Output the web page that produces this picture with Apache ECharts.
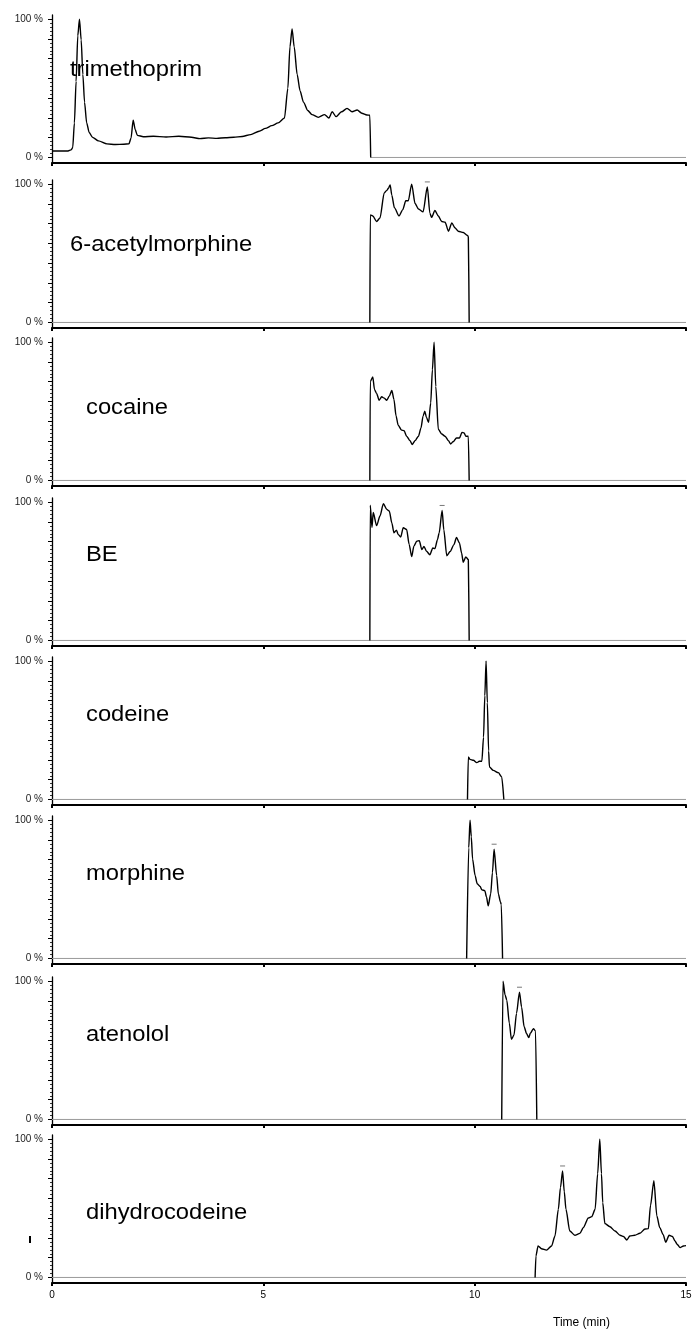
<!DOCTYPE html>
<html>
<head>
<meta charset="utf-8">
<script src="https://cdn.jsdelivr.net/npm/echarts@6/dist/echarts.min.js"></script>
<style>
html,body{margin:0;padding:0;background:#fff;}
#c{width:697px;height:1336px;}
</style>
</head>
<body>
<div id="c"></div>
<script>
// ---- data ----
const compounds = ['trimethoprim','6-acetylmorphine','cocaine','BE','codeine','morphine','atenolol','dihydrocodeine'];
const xTicks = [0, 5, 10, 15];
const yLabels = ['0 %', '100 %'];
const xTitle = 'Time (min)';

const trimethoprim = [[0,4.7],[0.38,4.7],[0.45,5.5],[0.49,7],[0.53,25],[0.57,55],[0.61,88],[0.65,100],[0.69,85],[0.73,60],[0.77,40],[0.82,25],[0.88,18],[0.96,14.5],[1.1,12],[1.3,9.8],[1.5,9.4],[1.7,9.6],[1.82,9.8],[1.87,14],[1.92,27],[1.97,20],[2.02,16],[2.16,15],[2.4,15.3],[2.7,14.8],[3.0,15.3],[3.3,14.6],[3.5,13.6],[3.7,14.2],[3.9,13.8],[4.1,14.3],[4.3,14.6],[4.5,15.2],[4.7,16.5],[4.9,19],[5.05,21],[5.2,23],[5.35,25],[5.5,28.5],[5.58,50],[5.63,80],[5.68,93],[5.73,80],[5.8,60],[5.87,48],[5.95,40],[6.05,34],[6.15,31],[6.3,29],[6.45,31],[6.55,28.5],[6.63,33],[6.72,29.5],[6.85,33],[6.98,35.5],[7.1,33],[7.22,34.3],[7.33,32],[7.45,30.7],[7.52,30.5],[7.54,0]];
const acetylmorphine = [[7.52,0],[7.53,77.7],[7.59,77],[7.68,73],[7.76,75.5],[7.86,93.7],[7.92,95.5],[7.96,97],[8.0,99.5],[8.04,92],[8.10,83],[8.21,77],[8.30,81.6],[8.37,88],[8.43,88],[8.51,100],[8.59,86],[8.67,82],[8.78,80],[8.88,98],[8.94,79],[8.98,76],[9.06,81],[9.14,77],[9.22,73],[9.30,72.5],[9.38,66],[9.46,72],[9.53,68.5],[9.61,66],[9.73,65],[9.83,63],[9.85,62],[9.87,0]];
const cocaine = [[7.52,0],[7.53,71.6],[7.59,74.8],[7.63,65.7],[7.68,63],[7.74,58],[7.80,60.5],[7.86,59.5],[7.92,58],[7.98,61],[8.04,65],[8.09,58.6],[8.14,46.7],[8.19,40],[8.27,36.4],[8.33,36],[8.39,32],[8.47,28.8],[8.52,26],[8.59,28.8],[8.67,32],[8.73,38],[8.78,46.7],[8.82,50],[8.86,45.5],[8.91,42],[8.96,56],[9.0,80],[9.04,100],[9.08,68],[9.14,37],[9.22,33.6],[9.30,32],[9.38,28.8],[9.43,26.4],[9.49,28],[9.57,30.7],[9.64,30.7],[9.70,34.8],[9.75,34.3],[9.79,32],[9.85,32],[9.87,0]];
const BE = [[7.52,0],[7.53,97.8],[7.57,81.7],[7.60,92.5],[7.68,83],[7.76,90],[7.84,98.9],[7.92,94.8],[7.98,93.6],[8.04,85],[8.09,77.9],[8.15,79.8],[8.19,76.7],[8.25,74.8],[8.31,81.5],[8.39,80.3],[8.45,69.5],[8.51,60.6],[8.56,68],[8.63,71.8],[8.69,72.2],[8.75,65.7],[8.80,68],[8.86,64.5],[8.94,62],[9.01,66.9],[9.06,66.4],[9.12,72.9],[9.16,77.8],[9.23,94],[9.27,80],[9.34,61.2],[9.42,64.3],[9.51,69.3],[9.57,74.5],[9.64,70.5],[9.69,63.3],[9.73,56.6],[9.79,60.4],[9.85,58.5],[9.87,0]];
const codeine = [[9.83,0],[9.85,30.7],[9.89,29],[9.97,28.3],[10.05,26.6],[10.11,27.6],[10.17,27.6],[10.21,45],[10.24,75],[10.27,100],[10.30,70],[10.33,35],[10.35,23.5],[10.44,21],[10.56,19.4],[10.64,16.3],[10.69,0]];
const morphine = [[9.81,0],[9.86,80],[9.89,100],[9.92,88],[9.95,72],[10.01,60],[10.06,54],[10.13,52],[10.17,49.6],[10.24,49],[10.28,44.4],[10.32,38],[10.38,46.8],[10.42,62],[10.46,79],[10.52,60],[10.56,46.8],[10.61,40.8],[10.63,39],[10.66,0]];
const atenolol = [[10.64,0],[10.67,100],[10.72,90],[10.76,86.3],[10.82,69.6],[10.87,58],[10.93,61],[10.99,76.7],[11.06,92],[11.11,81.3],[11.17,67],[11.23,62],[11.28,59.2],[11.32,62.5],[11.39,65.6],[11.44,64],[11.47,0]];
const dihydrocodeine = [[11.43,0],[11.45,15.6],[11.50,22.8],[11.58,20.8],[11.70,19.8],[11.82,22.8],[11.90,30],[11.98,49.3],[12.03,65],[12.08,77],[12.12,62],[12.16,49.3],[12.25,33.6],[12.37,30.5],[12.49,31.9],[12.57,36],[12.69,43],[12.77,44],[12.85,49.3],[12.91,75],[12.96,100],[13.0,75],[13.03,54],[13.08,39],[13.20,36.7],[13.32,33.6],[13.44,30.5],[13.52,29.6],[13.60,27.1],[13.67,30],[13.79,30.5],[13.91,32],[14.03,35],[14.11,35.3],[14.16,52],[14.24,70],[14.31,44.5],[14.38,36],[14.46,31],[14.52,25.5],[14.60,30.5],[14.68,29.6],[14.74,26.4],[14.79,24],[14.86,21.6],[14.94,22.8],[15.0,23]];
const apexTimes = [null, 8.88, null, 9.23, null, 10.46, 11.06, 12.08];

const traces = [trimethoprim, acetylmorphine, cocaine, BE, codeine, morphine, atenolol, dihydrocodeine];

// ---- layout ----
const bottoms = [163, 328, 486, 646, 805, 964, 1125, 1283];
const gridH = 148;
const yMin = -4, yMax = 103;
const labelPos = [[70,68],[70,243],[86,406],[86,553],[86,713],[86,872],[86,1033],[86,1211]];
const FONT = '"Liberation Sans", Arial, Helvetica, sans-serif';

const majorTicks = [];
for (let k = 0; k <= 7; k++) majorTicks.push(k * 100 / 7);
const minorTicks = [];
for (let k = 0; k <= 35; k++) if (k % 5 !== 0) minorTicks.push(k * 100 / 35);

const grids = [], xAxes = [], yAxes = [], series = [], graphics = [];
traces.forEach((tr, i) => {
  const last = xTicks[xTicks.length - 1];
  grids.push({left: 52, right: 11, top: bottoms[i] - gridH, height: gridH});
  xAxes.push({
    type: 'value', gridIndex: i, min: 0, max: last, interval: 5,
    axisLine: {show: true, onZero: false, lineStyle: {color: '#000', width: 2.2}},
    axisTick: {show: true, length: 3, lineStyle: {color: '#000', width: 2}},
    axisLabel: {show: i === traces.length - 1, margin: 7, color: '#000', fontSize: 10, fontFamily: FONT},
    splitLine: {show: false}
  });
  yAxes.push({
    type: 'value', gridIndex: i, min: yMin, max: yMax, position: 'left',
    axisLine: {show: true, lineStyle: {color: '#000', width: 1.3}},
    axisTick: {show: true, customValues: majorTicks, length: 4, lineStyle: {color: '#000', width: 1}},
    axisLabel: {show: true, customValues: [0, 100], margin: 9, color: '#222', fontSize: 10, fontFamily: FONT,
      formatter: v => v < 50 ? yLabels[0] : yLabels[1]},
    splitLine: {show: false}
  });
  yAxes.push({
    type: 'value', gridIndex: i, min: yMin, max: yMax, position: 'left',
    axisLine: {show: false},
    axisTick: {show: true, customValues: minorTicks, length: 2, lineStyle: {color: '#000', width: 0.8}},
    axisLabel: {show: false},
    splitLine: {show: false}
  });
  const startsHigh = tr[0][1] > 0;
  const baseStart = startsHigh ? tr[tr.length - 1][0] : 0;
  series.push({
    type: 'line', xAxisIndex: i, yAxisIndex: 2 * i, symbol: 'none', silent: true,
    data: [[baseStart, 0], [last, 0]],
    lineStyle: {color: '#9a9a9a', width: 1}, z: 1
  });
  const s = {
    type: 'line', xAxisIndex: i, yAxisIndex: 2 * i, symbol: 'none', silent: true,
    smooth: 0.25, smoothMonotone: 'x',
    data: tr, lineStyle: {color: '#000', width: 1.4}, z: 3, animation: false
  };
  if (apexTimes[i] !== null) {
    const pt = tr.find(p => Math.abs(p[0] - apexTimes[i]) < 1e-6);
    s.markPoint = {
      silent: true, animation: false,
      symbol: 'rect', symbolSize: [5, 1], symbolOffset: [0, -5],
      itemStyle: {color: '#777'}, label: {show: false},
      data: [{coord: pt}]
    };
  }
  series.push(s);
  graphics.push({
    type: 'text', left: labelPos[i][0], top: labelPos[i][1] - 9, scaleX: 1.08,
    style: {text: compounds[i], fontSize: 22, fontFamily: FONT, fill: '#000'}
  });
});
graphics.push({
  type: 'text', left: 553, top: 1317,
  style: {text: xTitle, fontSize: 12, fontFamily: FONT, fill: '#000'}
});
graphics.push({type: 'rect', left: 29, top: 1236, shape: {width: 2, height: 7}, style: {fill: '#000'}});

const chart = echarts.init(document.getElementById('c'), null, {renderer: 'canvas'});
chart.setOption({
  animation: false,
  backgroundColor: '#fff',
  grid: grids, xAxis: xAxes, yAxis: yAxes, series: series, graphic: graphics
});
</script>
</body>
</html>
